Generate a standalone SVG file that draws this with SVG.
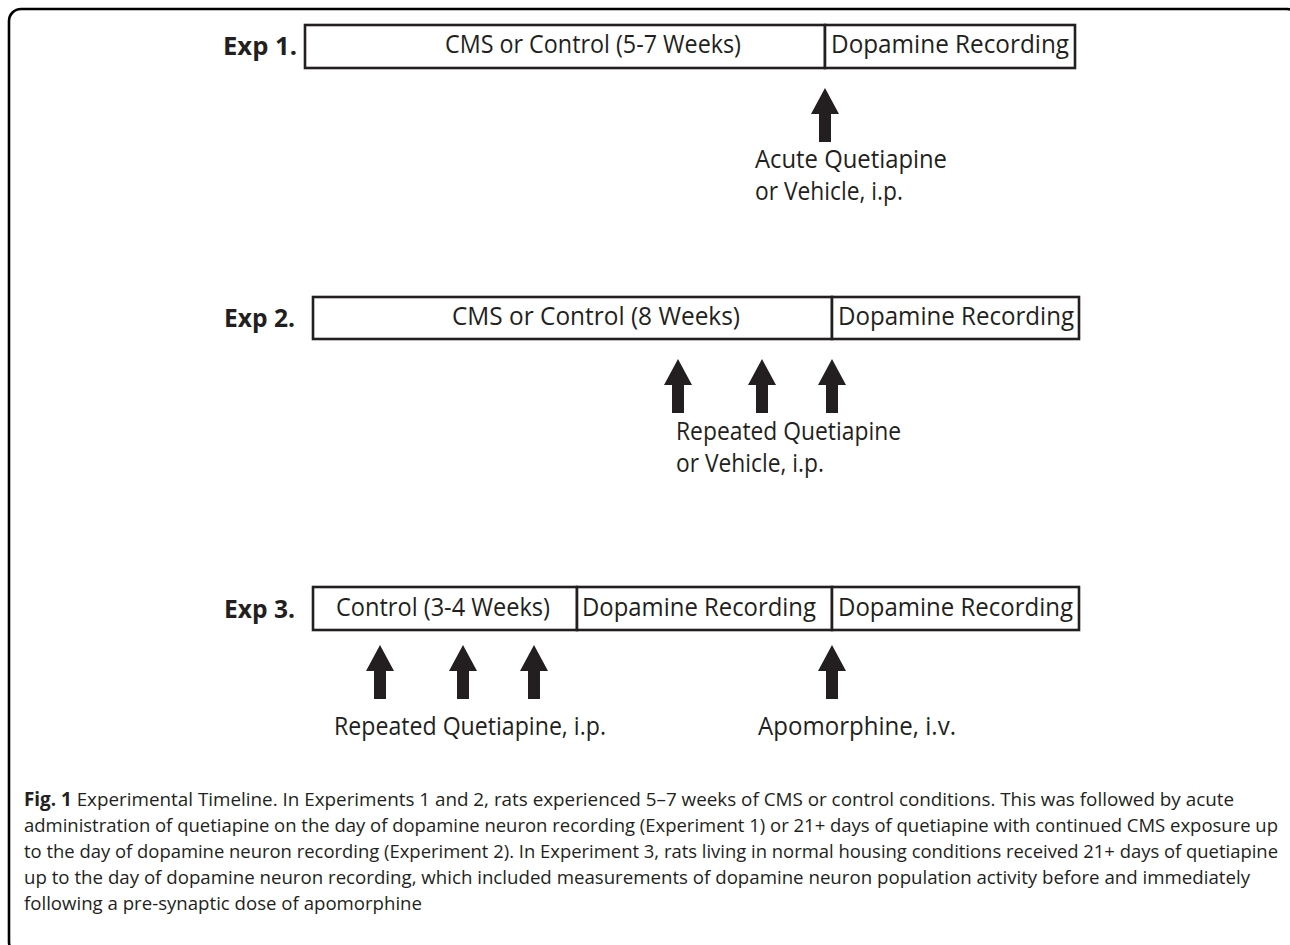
<svg xmlns="http://www.w3.org/2000/svg" width="1290" height="945" viewBox="0 0 1290 945">
<style>
.box{fill:#fff;stroke:#231f20;stroke-width:2.6}
.t{font-family:"Open Sans","Noto Sans","Liberation Sans",sans-serif;font-size:25px;fill:#231f20}
.lbl{font-family:"Open Sans","Noto Sans","Liberation Sans",sans-serif;font-size:25px;font-weight:bold;fill:#231f20}
.cap{font-family:"Open Sans","Noto Sans","Liberation Sans",sans-serif;font-size:19px;fill:#231f20}
.arr{fill:#231f20}
</style>
<defs>
<path id="up" d="M0,0 L14,26 L6,26 L6,54 L-6,54 L-6,26 L-14,26 Z"/>
</defs>
<rect x="9" y="9" width="1290" height="945" rx="12" fill="none" stroke="#000" stroke-width="2.6"/>

<g id="exp1">
<text class="lbl" x="223" y="55" textLength="74" lengthAdjust="spacingAndGlyphs">Exp 1.</text>
<g id="exp1-cms"><rect class="box" x="305" y="25" width="520" height="43"/>
<text class="t" x="445" y="53" textLength="296" lengthAdjust="spacingAndGlyphs">CMS or Control (5-7 Weeks)</text></g>
<g id="exp1-rec"><rect class="box" x="825" y="25" width="250" height="43"/>
<text class="t" x="831" y="53" textLength="238" lengthAdjust="spacingAndGlyphs">Dopamine Recording</text></g>
<g id="exp1-drug">
<text class="t" x="755" y="168" textLength="192" lengthAdjust="spacingAndGlyphs">Acute Quetiapine</text>
<text class="t" x="755" y="200" textLength="148" lengthAdjust="spacingAndGlyphs">or Vehicle, i.p.</text></g>
</g>

<g id="exp2">
<text class="lbl" x="224" y="327" textLength="71" lengthAdjust="spacingAndGlyphs">Exp 2.</text>
<g id="exp2-cms"><rect class="box" x="313" y="297" width="519" height="42"/>
<text class="t" x="452" y="325" textLength="288" lengthAdjust="spacingAndGlyphs">CMS or Control (8 Weeks)</text></g>
<g id="exp2-rec"><rect class="box" x="832" y="297" width="247" height="42"/>
<text class="t" x="838" y="325" textLength="236" lengthAdjust="spacingAndGlyphs">Dopamine Recording</text></g>
<g id="exp2-drug">
<text class="t" x="676" y="440" textLength="225" lengthAdjust="spacingAndGlyphs">Repeated Quetiapine</text>
<text class="t" x="676" y="472" textLength="148" lengthAdjust="spacingAndGlyphs">or Vehicle, i.p.</text></g>
</g>

<g id="exp3">
<text class="lbl" x="224" y="618" textLength="71" lengthAdjust="spacingAndGlyphs">Exp 3.</text>
<g id="exp3-ctrl"><rect class="box" x="313" y="587" width="264" height="43"/>
<text class="t" x="336" y="616" textLength="214" lengthAdjust="spacingAndGlyphs">Control (3-4 Weeks)</text></g>
<g id="exp3-rec1"><rect class="box" x="577" y="587" width="255" height="43"/>
<text class="t" x="582" y="616" textLength="234" lengthAdjust="spacingAndGlyphs">Dopamine Recording</text></g>
<g id="exp3-rec2"><rect class="box" x="832" y="587" width="247" height="43"/>
<text class="t" x="838" y="616" textLength="235" lengthAdjust="spacingAndGlyphs">Dopamine Recording</text></g>
<g id="exp3-drug1">
<text class="t" x="334" y="735" textLength="272" lengthAdjust="spacingAndGlyphs">Repeated Quetiapine, i.p.</text></g>
<g id="exp3-drug2">
<text class="t" x="758" y="735" textLength="198" lengthAdjust="spacingAndGlyphs">Apomorphine, i.v.</text></g>
</g>

<g id="connectors" class="arr">
<use href="#up" x="825" y="88"/>
<use href="#up" x="678" y="359"/>
<use href="#up" x="762" y="359"/>
<use href="#up" x="832" y="359"/>
<use href="#up" x="380" y="645"/>
<use href="#up" x="463" y="645"/>
<use href="#up" x="534" y="645"/>
<use href="#up" x="832" y="645"/>
</g>

<g id="caption" class="cap">
<text x="24" y="806" textLength="1210" lengthAdjust="spacingAndGlyphs"><tspan font-weight="bold">Fig. 1</tspan> Experimental Timeline. In Experiments 1 and 2, rats experienced 5–7 weeks of CMS or control conditions. This was followed by acute</text>
<text x="24" y="832" textLength="1254" lengthAdjust="spacingAndGlyphs">administration of quetiapine on the day of dopamine neuron recording (Experiment 1) or 21+ days of quetiapine with continued CMS exposure up</text>
<text x="24" y="858" textLength="1254" lengthAdjust="spacingAndGlyphs">to the day of dopamine neuron recording (Experiment 2). In Experiment 3, rats living in normal housing conditions received 21+ days of quetiapine</text>
<text x="24" y="884" textLength="1226" lengthAdjust="spacingAndGlyphs">up to the day of dopamine neuron recording, which included measurements of dopamine neuron population activity before and immediately</text>
<text x="24" y="910" textLength="398" lengthAdjust="spacingAndGlyphs">following a pre-synaptic dose of apomorphine</text>
</g>
</svg>
